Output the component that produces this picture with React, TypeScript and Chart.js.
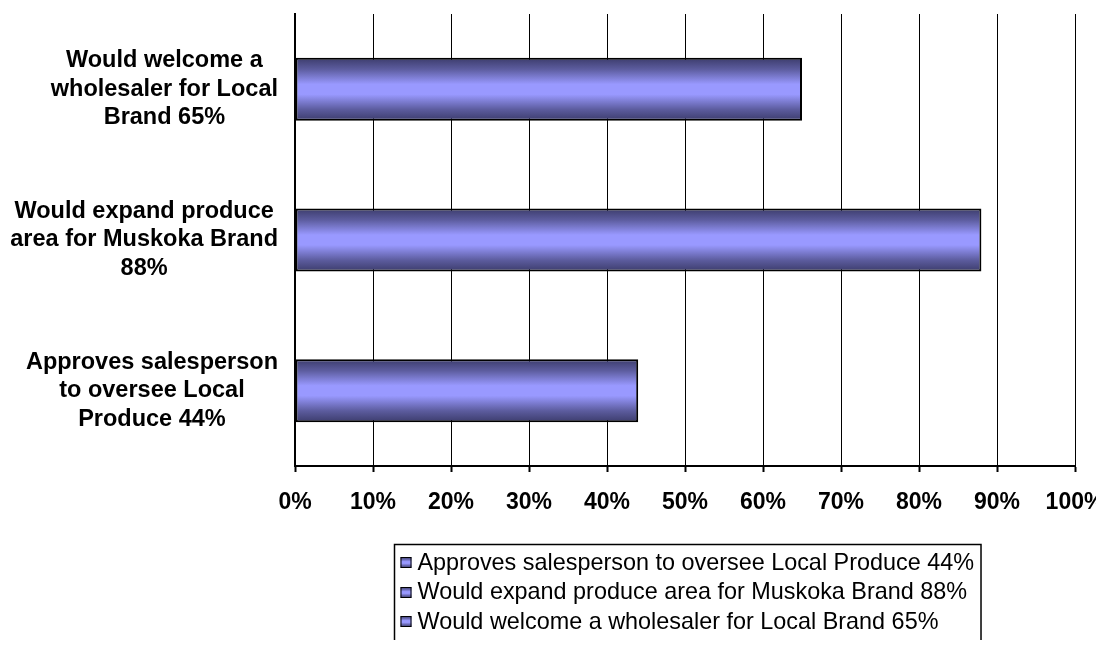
import React, { useEffect, useRef } from "react";
import { Chart, registerables } from "chart.js";

Chart.register(...registerables);

// Categories in Excel order (first = bottom bar), each as label lines
const categoryLines: string[][] = [
  ["Approves salesperson", "to oversee Local", "Produce 44%"],
  ["Would expand produce", "area for Muskoka Brand", "88%"],
  ["Would welcome a", "wholesaler for Local", "Brand 65%"],
];
const values: number[] = [44, 88, 65];
const xTicks: number[] = [0, 10, 20, 30, 40, 50, 60, 70, 80, 90, 100];

const FONT = "Arial, 'Liberation Sans', sans-serif";

function barGradient(ctx: CanvasRenderingContext2D, top: number, bottom: number) {
  const g = ctx.createLinearGradient(0, top, 0, bottom);
  g.addColorStop(0, "#3c3c6c");
  g.addColorStop(0.18, "#5c5c9e");
  g.addColorStop(0.42, "#9999ff");
  g.addColorStop(0.58, "#9999ff");
  g.addColorStop(0.82, "#5c5c9e");
  g.addColorStop(1, "#3c3c6c");
  return g;
}

const BAR_FRACTION = 0.418;

const yLabelPlugin = {
  id: "yLabelPlugin",
  afterDraw(chart: any) {
    const { ctx, chartArea } = chart;
    const yScale = chart.scales.y;
    ctx.save();
    ctx.font = `bold 23.5px ${FONT}`;
    ctx.fillStyle = "#000";
    ctx.textAlign = "center";
    ctx.textBaseline = "middle";
    const right = chartArea.left - 17;
    const lh = 28.5;
    categoryLines.forEach((lines, i) => {
      const cy = yScale.getPixelForValue(i);
      const widest = Math.max(...lines.map((l) => ctx.measureText(l).width));
      const cx = right - widest / 2;
      const startY = cy - ((lines.length - 1) * lh) / 2;
      lines.forEach((line, j) => ctx.fillText(line, cx, startY + j * lh));
    });
    ctx.restore();
  },
};

const boxLegendPlugin = {
  id: "boxLegendPlugin",
  afterDraw(chart: any) {
    const { ctx, chartArea } = chart;
    ctx.save();
    ctx.font = `23.4px ${FONT}`;
    const texts = categoryLines.map((l) => l.join(" "));
    const textW = Math.max(...texts.map((t) => ctx.measureText(t).width));
    const icon = 11;
    const padL = 6, gap = 6, padR = 7;
    const boxW = padL + icon + gap + textW + padR;
    const cx = (chartArea.left + chartArea.right) / 2 + 2;
    const left = Math.round(cx - boxW / 2) + 0.5;
    const top = 536.5;
    const rowH = 29.5;
    const boxH = 102;
    ctx.lineWidth = 1.5;
    ctx.strokeStyle = "#000";
    ctx.strokeRect(left, top, boxW, boxH);
    ctx.textBaseline = "middle";
    ctx.textAlign = "left";
    texts.forEach((t, i) => {
      const y = top + 18 + i * rowH;
      const ix = left + padL;
      const iy = Math.round(y - icon / 2);
      ctx.fillStyle = barGradient(ctx, iy, iy + icon);
      ctx.fillRect(ix, iy, icon, icon);
      ctx.lineWidth = 1;
      ctx.strokeRect(ix + 0.5, iy + 0.5, icon - 1, icon - 1);
      ctx.fillStyle = "#000";
      ctx.fillText(t, ix + icon + gap, y + 1);
    });
    ctx.restore();
  },
};

export default function App() {
  const ref = useRef<HTMLCanvasElement | null>(null);
  useEffect(() => {
    if (!ref.current) return;
    const chart = new Chart(ref.current, {
      type: "bar",
      data: {
        labels: categoryLines.map((l) => l.join(" ")),
        datasets: [
          {
            data: values,
            backgroundColor: (c: any) => {
              const chartObj = c.chart;
              const ys = chartObj.scales?.y;
              const area = chartObj.chartArea;
              if (!ys || !area) return "#9999ff";
              const cy = ys.getPixelForValue(c.dataIndex);
              const half = ((area.bottom - area.top) / categoryLines.length) * BAR_FRACTION / 2;
              return barGradient(chartObj.ctx, cy - half, cy + half);
            },
            borderColor: "#000",
            borderWidth: 2,
            borderSkipped: false,
            barPercentage: BAR_FRACTION,
            categoryPercentage: 1,
          },
        ],
      },
      options: {
        indexAxis: "y",
        animation: false,
        responsive: true,
        maintainAspectRatio: false,
        layout: { padding: { left: 0, right: 29, top: 6, bottom: 0 } },
        plugins: {
          legend: { display: false },
          tooltip: { enabled: false },
        },
        scales: {
          x: {
            type: "linear",
            min: 0,
            max: 100,
            afterBuildTicks: (s: any) => {
              s.ticks = xTicks.map((v) => ({ value: v }));
            },
            afterFit: (s: any) => {
              s.height = 174;
              s.paddingLeft = 0;
              s.paddingRight = 0;
            },
            ticks: {
              color: "#000",
              font: { family: FONT, size: 23, weight: "bold" },
              padding: 17,
              callback: (v: any) => `${v}%`,
              maxRotation: 0,
              autoSkip: false,
            },
            grid: {
              color: "#000",
              lineWidth: 1,
              drawTicks: true,
              tickLength: 6,
              tickWidth: 2,
              tickColor: "#000",
            },
            border: { display: true, color: "#000", width: 2 },
          },
          y: {
            type: "category",
            reverse: true,
            afterFit: (s: any) => {
              s.width = 287;
              s.paddingTop = 0;
              s.paddingBottom = 0;
            },
            ticks: { display: false },
            grid: { display: false, drawTicks: false },
            border: { display: true, color: "#000", width: 2 },
          },
        },
      },
      plugins: [yLabelPlugin, boxLegendPlugin],
    });
    return () => chart.destroy();
  }, []);
  return (
    <div style={{ position: "relative", width: 1096, height: 632 }}>
      <canvas ref={ref} />
    </div>
  );
}
